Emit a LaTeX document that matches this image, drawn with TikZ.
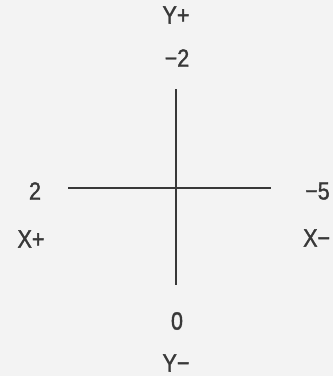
\documentclass[tikz,border=0pt]{standalone}
\usepackage{fontspec}
\setmainfont[FakeStretch=0.86,FakeBold=1.4]{Liberation Sans}
\definecolor{bg}{HTML}{F3F3F3}
\definecolor{ink}{HTML}{383838}
\begin{document}
\begin{tikzpicture}[x=1pt,y=-1pt,
  lab/.style={text=ink,font=\fontsize{25}{25}\selectfont,inner sep=0pt,anchor=center},
  axis/.style={draw=ink,line width=1.6pt}]
\fill[bg] (0,0) rectangle (333,376);
\useasboundingbox (0,0) rectangle (333,376);
\node[lab] (yp) at (176,15) {Y+};
\node[lab] (m2) at (177,58) {−2};
\node[lab] (two) at (35,191) {2};
\node[lab] (xp) at (31,239) {X+};
\node[lab,anchor=west] (m5) at (305,191) {−5};
\node[lab,anchor=west] (xm) at (303,238) {X−};
\node[lab] (zero) at (177,321) {0};
\node[lab] (ym) at (176,363) {Y−};
\coordinate (top) at (176,89);
\coordinate (bot) at (176,285);
\coordinate (left) at (68,188);
\coordinate (right) at (271,188);
\draw[axis] (top) -- (bot);
\draw[axis] (left) -- (right);
\end{tikzpicture}
\end{document}
